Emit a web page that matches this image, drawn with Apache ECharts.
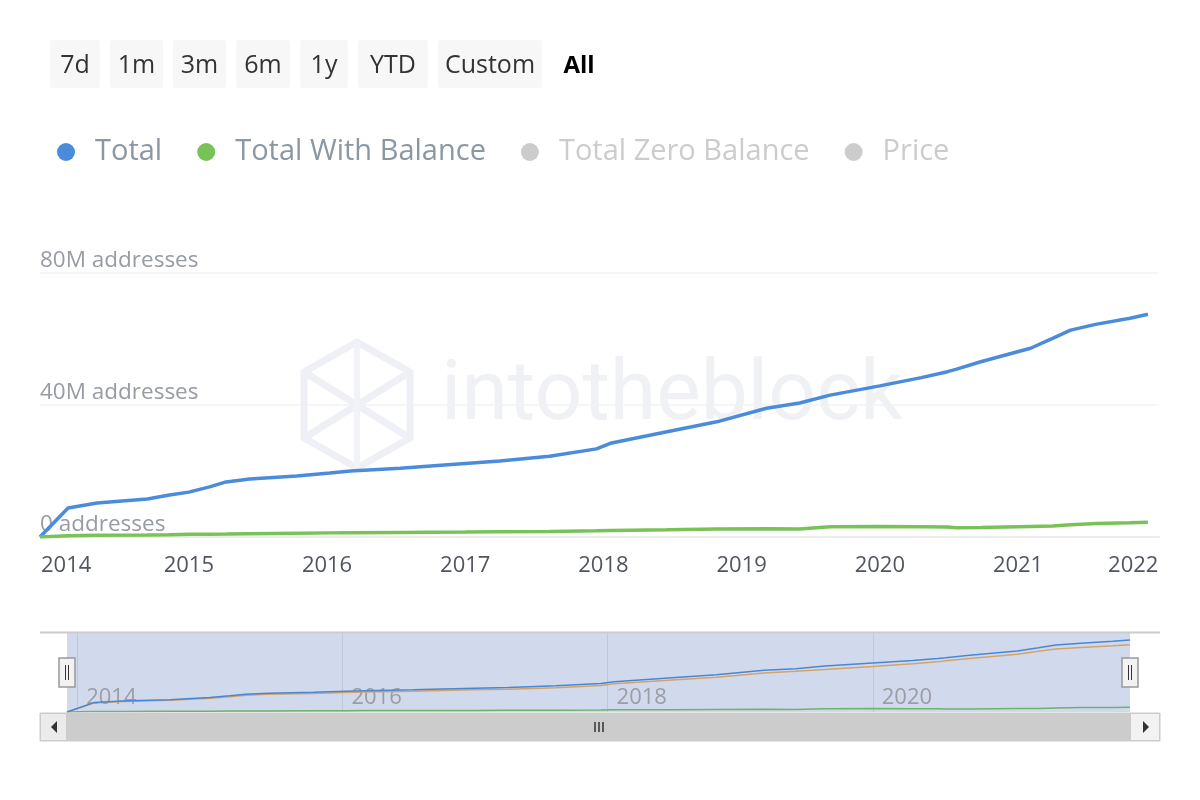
<!DOCTYPE html>
<html>
<head>
<meta charset="utf-8">
<script src="https://cdn.jsdelivr.net/npm/echarts@6/dist/echarts.min.js"></script>
<style>html,body{margin:0;padding:0;background:#fff}#c{width:1200px;height:800px}</style>
</head>
<body>
<div id="c"></div>
<script>
// ---- data (decimal years, values in millions of addresses) ----
const years = [2013.923, 2014.126, 2014.336, 2014.70, 2014.86, 2015.00, 2015.15, 2015.27, 2015.44, 2015.78,
  2016.02, 2016.17, 2016.53, 2016.75, 2017.00, 2017.25, 2017.61, 2017.95, 2018.05, 2018.46,
  2018.82, 2019.18, 2019.42, 2019.64, 2020.00, 2020.30, 2020.49, 2020.55, 2020.73, 2021.09,
  2021.25, 2021.38, 2021.57, 2021.81, 2021.94];
const total = [0, 8.8, 10.3, 11.5, 12.7, 13.6, 15.2, 16.7, 17.6, 18.5,
  19.4, 20.0, 20.8, 21.5, 22.3, 23.0, 24.5, 26.7, 28.4, 31.9,
  34.9, 39.0, 40.6, 43.0, 45.8, 48.3, 50.1, 50.8, 53.1, 57.2,
  60.2, 62.7, 64.5, 66.3, 67.5];
const withBalance = [0, 0.4, 0.5, 0.6, 0.7, 0.8, 0.85, 0.9, 1.0, 1.15,
  1.25, 1.3, 1.4, 1.45, 1.5, 1.6, 1.7, 1.9, 2.0, 2.2,
  2.4, 2.5, 2.4, 3.1, 3.2, 3.1, 3.0, 2.8, 2.9, 3.2,
  3.3, 3.7, 4.1, 4.3, 4.5];
const zeroBalance = [0, 8.4, 9.8, 10.9, 12.0, 12.8, 14.35, 15.8, 16.6, 17.35,
  18.15, 18.7, 19.4, 20.05, 20.8, 21.4, 22.8, 24.8, 26.4, 29.7,
  32.5, 36.5, 38.2, 39.9, 42.6, 45.2, 47.1, 48.0, 50.2, 54.0,
  56.9, 59.0, 60.4, 62.0, 63.0];
const price = [];
const seriesNames = ['Total', 'Total With Balance', 'Total Zero Balance', 'Price'];
const mainYearTicks = [2014, 2015, 2016, 2017, 2018, 2019, 2020, 2021, 2022];
const navYearTicks = [2014, 2016, 2018, 2020];
const yTickValues = [0, 40, 80];
const rangeButtons = ['7d', '1m', '3m', '6m', '1y', 'YTD', 'Custom'];
const selectedRange = 'All';

// ---- build ----
const FONT = "'Open Sans', 'Noto Sans', sans-serif";
const pairs = arr => years.map((x, i) => [x, arr[i]]);
const C_BLUE = '#4a8cdb', C_GREEN = '#78c257', C_TAN = '#d2a466', C_GRAY = '#cccccc';

const btnGeom = [[50, 50], [110, 53], [173, 53], [236, 54], [300, 48], [358, 70], [438, 104]];
const graphic = [];
// watermark
graphic.push({type: 'text', z: -10, silent: true, style: {text: 'intotheblock', x: 441, y: 440, font: "84px Roboto, sans-serif", fill: '#eff1f5', textVerticalAlign: 'bottom'}});
graphic.push({type: 'polygon', z: -10, silent: true, shape: {points: [[357, 342], [410, 372], [410, 438], [357, 468], [304, 438], [304, 372]]}, style: {fill: 'none', stroke: '#eef0f6', lineWidth: 7}});
graphic.push({type: 'polyline', z: -10, silent: true, shape: {points: [[304, 372], [410, 438]]}, style: {stroke: '#eef0f6', lineWidth: 7}});
graphic.push({type: 'polyline', z: -10, silent: true, shape: {points: [[410, 372], [304, 438]]}, style: {stroke: '#eef0f6', lineWidth: 7}});
graphic.push({type: 'polyline', z: -10, silent: true, shape: {points: [[357, 342], [357, 468]]}, style: {stroke: '#f1f3f8', lineWidth: 6}});
// range buttons
rangeButtons.forEach((b, i) => {
  const [x, w] = btnGeom[i];
  graphic.push({type: 'rect', shape: {x: x, y: 40, width: w, height: 48, r: 3}, style: {fill: '#f7f7f7'}});
  graphic.push({type: 'text', style: {text: b, x: x + w / 2, y: 66, font: "25px " + FONT, fill: '#333333', textAlign: 'center', textVerticalAlign: 'middle'}});
});
graphic.push({type: 'text', style: {text: selectedRange, x: 579, y: 66, font: "bold 24px " + FONT, fill: '#000000', textAlign: 'center', textVerticalAlign: 'middle'}});
// navigator chrome
graphic.push({type: 'line', z: 50, shape: {x1: 40, y1: 632.5, x2: 1160, y2: 632.5}, style: {stroke: '#cccccc', lineWidth: 2}});
[67, 1130].forEach(cx => {
  graphic.push({type: 'rect', z: 60, shape: {x: cx - 8, y: 658, width: 16, height: 29}, style: {fill: '#f2f2f2', stroke: '#999999', lineWidth: 1.5}});
  graphic.push({type: 'line', z: 61, shape: {x1: cx - 1.5, y1: 665, x2: cx - 1.5, y2: 680}, style: {stroke: '#333', lineWidth: 1}});
  graphic.push({type: 'line', z: 61, shape: {x1: cx + 1.5, y1: 665, x2: cx + 1.5, y2: 680}, style: {stroke: '#333', lineWidth: 1}});
});
// scrollbar
graphic.push({type: 'rect', z: 50, shape: {x: 40, y: 713, width: 1120, height: 28}, style: {fill: '#f2f2f2', stroke: '#cccccc', lineWidth: 1}});
graphic.push({type: 'rect', z: 51, shape: {x: 67, y: 713, width: 1063, height: 28}, style: {fill: '#cccccc'}});
graphic.push({type: 'rect', z: 51, shape: {x: 40.5, y: 713.5, width: 26, height: 27}, style: {fill: '#ebebeb', stroke: '#cccccc', lineWidth: 1}});
graphic.push({type: 'rect', z: 51, shape: {x: 1130.5, y: 713.5, width: 29, height: 27}, style: {fill: '#f2f2f2', stroke: '#cccccc', lineWidth: 1}});
graphic.push({type: 'polygon', z: 52, shape: {points: [[57, 721], [57, 733], [51, 727]]}, style: {fill: '#333'}});
graphic.push({type: 'polygon', z: 52, shape: {points: [[1143, 721], [1143, 733], [1149, 727]]}, style: {fill: '#333'}});
[595, 599, 603].forEach(x => graphic.push({type: 'line', z: 52, shape: {x1: x, y1: 722, x2: x, y2: 732}, style: {stroke: '#333', lineWidth: 1.5}}));

const lastMain = mainYearTicks[mainYearTicks.length - 1];
const option = {
  animation: false,
  backgroundColor: '#ffffff',
  textStyle: {fontFamily: FONT},
  legend: {
    data: seriesNames, left: 57, top: 137, padding: 0, itemGap: 35,
    icon: 'circle', itemWidth: 48, itemHeight: 18,
    textStyle: {fontSize: 29, color: '#8b97a3', fontFamily: FONT, lineHeight: 30},
    inactiveColor: '#cccccc',
    selected: {'Total Zero Balance': false, 'Price': false}
  },
  grid: [
    {left: 40, right: 41, top: 273, height: 264, containLabel: false, outerBoundsMode: 'none'},
    {left: 67, right: 70, top: 633, height: 79, containLabel: false, outerBoundsMode: 'none', show: true, backgroundColor: 'rgba(102,133,194,0.3)', borderWidth: 0}
  ],
  xAxis: [
    {
      gridIndex: 0, type: 'value', min: 2013.923, max: 2022.02,
      axisLine: {show: true, lineStyle: {color: '#ececec', width: 2}},
      axisTick: {show: false, customValues: mainYearTicks},
      splitLine: {show: false},
      axisLabel: {
        customValues: mainYearTicks, margin: 18, fontSize: 22, color: '#505661', fontFamily: FONT,
        formatter: v => {
          const s = String(Math.round(v));
          if (Math.round(v) === mainYearTicks[0]) return '{l|' + s + '}';
          if (Math.round(v) === lastMain) return '{r|' + s + '}';
          return s;
        },
        rich: {
          l: {padding: [0, 0, 0, 31], fontSize: 22, color: '#505661', fontFamily: FONT},
          r: {padding: [0, 46, 0, 0], fontSize: 22, color: '#505661', fontFamily: FONT}
        }
      }
    },
    {
      gridIndex: 1, type: 'value', min: 2013.923, max: 2021.94,
      axisLine: {show: false}, axisTick: {show: false, customValues: navYearTicks},
      splitLine: {show: true, lineStyle: {color: '#bfc8da', width: 1}},
      axisLabel: {
        customValues: navYearTicks, inside: true, margin: 3, align: 'left', padding: [0, 0, 0, 9],
        fontSize: 22, color: '#9a9da3', fontFamily: FONT,
        formatter: v => String(Math.round(v))
      }
    }
  ],
  yAxis: [
    {
      gridIndex: 0, type: 'value', min: yTickValues[0], max: yTickValues[2], interval: yTickValues[1] - yTickValues[0],
      axisLine: {show: false}, axisTick: {show: false},
      splitLine: {show: true, lineStyle: {color: '#f2f2f2', width: 1.5}},
      axisLabel: {
        inside: true, margin: 0, fontSize: 22.5, color: '#979ca3', fontFamily: FONT,
        verticalAlign: 'bottom', padding: [0, 0, 1, 0],
        formatter: v => v === 0 ? '0 addresses' : v + 'M addresses'
      }
    },
    {gridIndex: 1, type: 'value', min: 0, max: 74, show: false, splitLine: {show: false}}
  ],
  series: [
    {name: seriesNames[0], type: 'line', xAxisIndex: 0, yAxisIndex: 0, data: pairs(total), showSymbol: false, symbol: 'none', color: C_BLUE, lineStyle: {color: C_BLUE, width: 3.5}, z: 3},
    {name: seriesNames[1], type: 'line', xAxisIndex: 0, yAxisIndex: 0, data: pairs(withBalance), showSymbol: false, symbol: 'none', color: C_GREEN, lineStyle: {color: C_GREEN, width: 3.5}, z: 3},
    {name: seriesNames[2], type: 'line', xAxisIndex: 0, yAxisIndex: 0, data: pairs(zeroBalance), showSymbol: false, symbol: 'none', color: C_TAN, lineStyle: {color: C_TAN, width: 3.5}},
    {name: seriesNames[3], type: 'line', xAxisIndex: 0, yAxisIndex: 0, data: price, showSymbol: false, symbol: 'none', color: C_GRAY},
    {name: 'nav-total', type: 'line', xAxisIndex: 1, yAxisIndex: 1, data: pairs(total), symbol: 'none', lineStyle: {color: '#4a86d4', width: 1.5}, z: 4},
    {name: 'nav-zero', type: 'line', xAxisIndex: 1, yAxisIndex: 1, data: pairs(zeroBalance), symbol: 'none', lineStyle: {color: C_TAN, width: 1.5}, z: 3},
    {name: 'nav-with', type: 'line', xAxisIndex: 1, yAxisIndex: 1, data: pairs(withBalance), symbol: 'none', lineStyle: {color: '#6db36d', width: 1.5}, z: 3}
  ],
  graphic: graphic
};
const chart = echarts.init(document.getElementById('c'), null, {renderer: 'canvas'});
chart.setOption(option);
</script>
</body>
</html>
